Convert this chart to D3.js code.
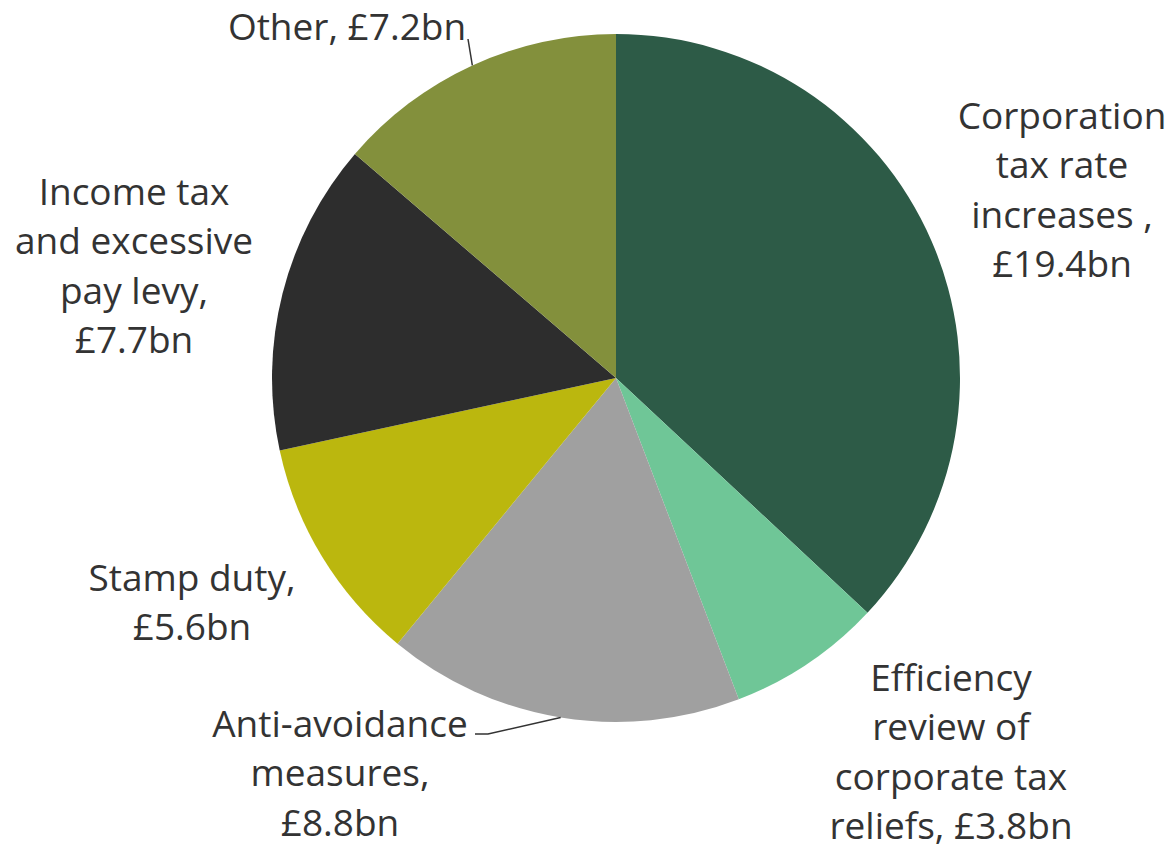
<!DOCTYPE html>
<html>
<head>
<meta charset="utf-8">
<script src="https://cdn.jsdelivr.net/npm/d3@7"></script>
<style>
  html, body { margin: 0; padding: 0; background: #ffffff; }
  svg { display: block; }
  text { font-family: "Open Sans", "Noto Sans", sans-serif; fill: #333333; }
</style>
</head>
<body>
<svg id="chart" width="1173" height="849"></svg>
<script>
// Revenue raised by measure (£bn)
const categories = [
  "Corporation tax rate increases ",
  "Efficiency review of corporate tax reliefs",
  "Anti-avoidance measures",
  "Stamp duty",
  "Income tax and excessive pay levy",
  "Other"
];
const values = [19.4, 3.8, 8.8, 5.6, 7.7, 7.2];
const colors = ["#2d5b47", "#6fc697", "#a0a0a0", "#bbb70e", "#2d2d2d", "#83903c"];

// Label lines as wrapped in the chart
const labelLines = [
  ["Corporation", "tax rate", "increases ,", "£19.4bn"],
  ["Efficiency", "review of", "corporate tax", "reliefs, £3.8bn"],
  ["Anti-avoidance", "measures,", "£8.8bn"],
  ["Stamp duty,", "£5.6bn"],
  ["Income tax", "and excessive", "pay levy,", "£7.7bn"],
  ["Other, £7.2bn"]
];

const svg = d3.select("#chart");
const cx = 616, cy = 378, r = 344;
const g = svg.append("g").attr("transform", `translate(${cx},${cy})`);

const pie = d3.pie().sort(null).value(d => d.value);
const arcs = pie(values.map((v, i) => ({ name: categories[i], value: v, i })));
const arc = d3.arc().innerRadius(0).outerRadius(r);

g.selectAll("path.slice")
  .data(arcs)
  .join("path")
  .attr("class", "slice")
  .attr("d", arc)
  .attr("fill", d => colors[d.data.i]);

// Label placement (centre of first line, relative to the pie centre)
const labelPos = [
  [446, -264],
  [335, 298],
  [-276, 344],
  [-424, 198],
  [-482, -188],
  [-269, -353]
];
const lineH = 49.5;

const labels = g.selectAll("g.label")
  .data(arcs)
  .join("g")
  .attr("class", "label")
  .attr("transform", d => `translate(${labelPos[d.data.i][0]},${labelPos[d.data.i][1]})`);

labels.each(function(d) {
  const lines = labelLines[d.data.i];
  d3.select(this).selectAll("text")
    .data(lines)
    .join("text")
    .attr("x", 0)
    .attr("y", (t, k) => k * lineH)
    .attr("text-anchor", "middle")
    .attr("dominant-baseline", "central")
    .attr("font-size", 37)
    .text(t => t);
});

// Leader lines from the middle of a slice's rim to its label
const leader = d3.line();
function rimMid(d) {
  const a = (d.startAngle + d.endAngle) / 2;
  return [r * Math.sin(a), -r * Math.cos(a)];
}
// Other
const pO = rimMid(arcs[5]);
g.append("path")
  .attr("d", leader([pO, [-148, -339]]))
  .attr("fill", "none").attr("stroke", "#333").attr("stroke-width", 1.5);
// Anti-avoidance
const pA = rimMid(arcs[2]);
g.append("path")
  .attr("d", leader([pA, [-128, 356], [-141, 356]]))
  .attr("fill", "none").attr("stroke", "#333").attr("stroke-width", 1.5);
</script>
</body>
</html>
